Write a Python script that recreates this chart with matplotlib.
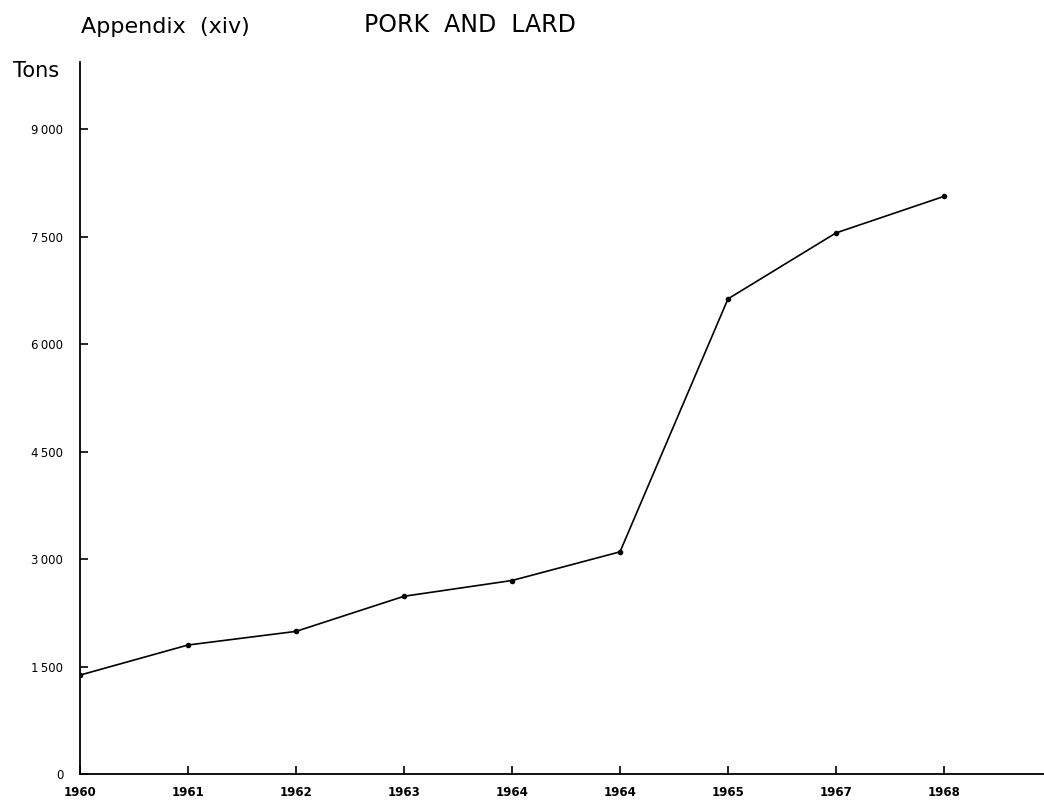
import matplotlib
matplotlib.use("Agg")
import matplotlib.pyplot as plt

# Data
year_labels = ["1960", "1961", "1962", "1963", "1964", "1964", "1965", "1967", "1968"]
tons = [1380, 1800, 1990, 2480, 2700, 3100, 6630, 7550, 8060]
y_ticks = [0, 1500, 3000, 4500, 6000, 7500, 9000]
y_tick_labels = ["0", "1\u2009500", "3\u2009000", "4\u2009500", "6\u2009000", "7\u2009500", "9\u2009000"]

plt.rcParams['font.family'] = ['DejaVu Sans']

W, H = 1044, 800
fig = plt.figure(figsize=(W / 100, H / 100), dpi=100)
ax = fig.add_axes([80 / W, 26 / H, (W - 80) / W, 712 / H])

x = list(range(len(tons)))
ax.plot(x, tons, color="black", linewidth=1.2, marker="o", markersize=3)

ax.set_xlim(0, (W - 80) / 108)
ax.set_ylim(0, 712 / (645 / 9000))

ax.set_xticks(x)
ax.set_xticklabels(year_labels, fontsize=8.5, fontweight="bold")
ax.set_yticks(y_ticks)
ax.set_yticklabels(y_tick_labels, fontsize=8.5)

ax.tick_params(axis="x", direction="in", length=6, width=1.2, pad=9)
ax.tick_params(axis="y", direction="in", length=6, width=1.2, pad=12)

for s in ["top", "right"]:
    ax.spines[s].set_visible(False)
for s in ["left", "bottom"]:
    ax.spines[s].set_linewidth(1.3)

fig.text(165 / W, 1 - 27 / H, "Appendix  (xiv)", fontsize=16, va="center", ha="center")
fig.text(470 / W, 1 - 25 / H, "PORK  AND  LARD", fontsize=17, va="center", ha="center")
fig.text(13 / W, 1 - 71 / H, "Tons", fontsize=15, va="center", ha="left")

fig.savefig("out.png", dpi=100)
